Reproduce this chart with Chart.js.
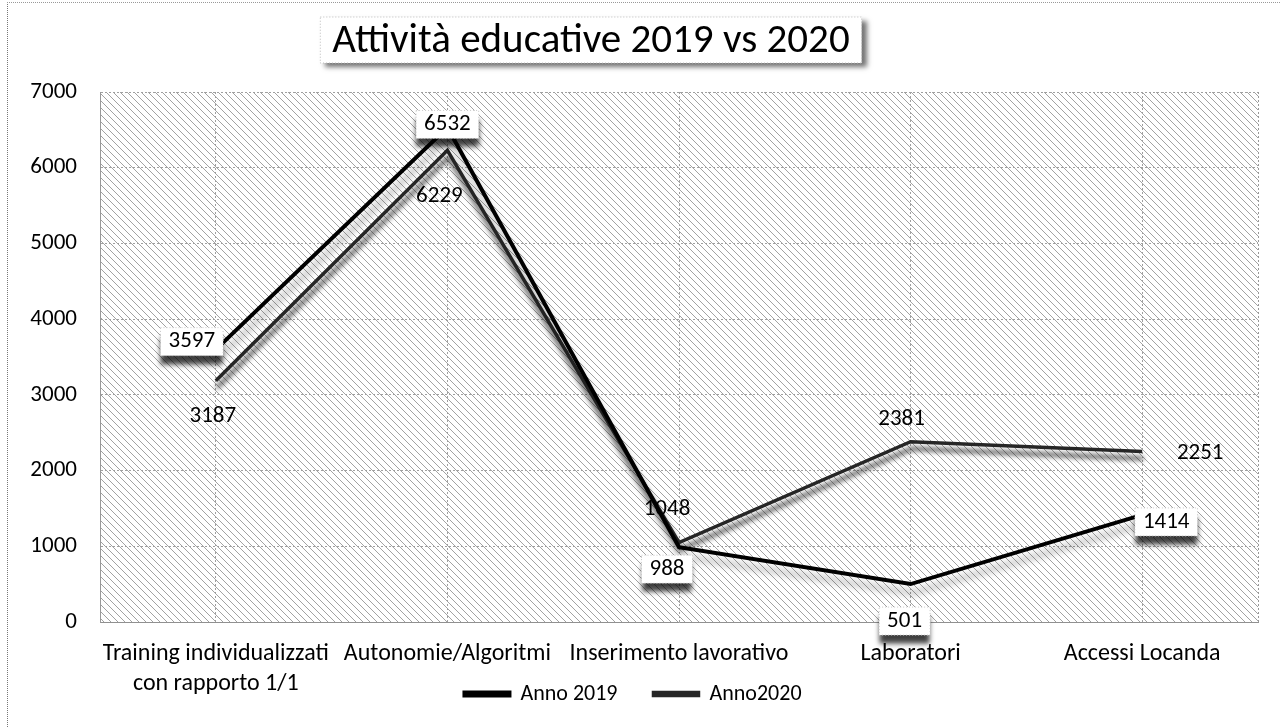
<!DOCTYPE html>
<html>
<head>
<meta charset="utf-8">
<script src="https://cdn.jsdelivr.net/npm/chart.js@4.4.1/dist/chart.umd.min.js"></script>
<style>
  html, body { margin: 0; padding: 0; background: #fff; }
  #wrap { position: relative; width: 1280px; height: 727px; }
  #frame { position: absolute; left: 7px; top: 2px; right: 0; bottom: 0;
           border-left: 1px dotted #777; border-top: 1px dotted #999; pointer-events: none; }
</style>
</head>
<body>
<div id="wrap">
  <canvas id="chart" width="1280" height="727"></canvas>
  <div id="frame"></div>
</div>
<script>
var titleText = 'Attività educative 2019 vs 2020';
var categories = [
    ['Training individualizzati', 'con rapporto 1/1'],
    'Autonomie/Algoritmi',
    'Inserimento lavorativo',
    'Laboratori',
    'Accessi Locanda'
];
var anno2019 = [3597, 6532, 988, 501, 1414];
var anno2020 = [3187, 6229, 1048, 2381, 2251];
var yTicks = [0, 1000, 2000, 3000, 4000, 5000, 6000, 7000];

// label offsets from each point, in px
var offsets2019 = [[-24, -8], [0, -3], [-12, 22], [-6, 37], [24, 7]];
var offsets2020 = [[-3, 36], [-8, 46], [-12, -33], [-9, -22], [58, 2]];

var FONT = 'Carlito, Lato, sans-serif';

function makeHatch(ctx) {
    var c = document.createElement('canvas');
    c.width = 7; c.height = 7;
    var g = c.getContext('2d');
    g.fillStyle = '#ffffff';
    g.fillRect(0, 0, 7, 7);
    g.strokeStyle = '#a2a2a2';
    g.lineWidth = 1;
    g.beginPath();
    g.moveTo(0, 0); g.lineTo(7, 7);
    g.moveTo(-1, 6); g.lineTo(1, 8);
    g.moveTo(6, -1); g.lineTo(8, 1);
    g.stroke();
    return ctx.createPattern(c, 'repeat');
}

var backdrop = {
    id: 'backdrop',
    afterLayout: function (chart) {
        // let the two-line category label spill below the axis box
        chart.scales.x.bottom = chart.height;
    },
    beforeDraw: function (chart) {
        var ctx = chart.ctx, a = chart.chartArea;
        ctx.save();
        ctx.fillStyle = makeHatch(ctx);
        ctx.fillRect(a.left, a.top, a.right - a.left, a.bottom - a.top);

        // title box with shadow
        ctx.font = '41px ' + FONT;
        var w = ctx.measureText(titleText).width;
        var cx = 591, cy = 40;
        var bx = cx - w / 2 - 12, by = 17, bw = w + 24, bh = 46;
        ctx.shadowColor = 'rgba(0,0,0,0.55)';
        ctx.shadowOffsetX = 5;
        ctx.shadowOffsetY = 4;
        ctx.shadowBlur = 5;
        ctx.fillStyle = '#ffffff';
        ctx.fillRect(bx, by, bw, bh);
        ctx.restore();

        ctx.save();
        ctx.strokeStyle = '#bbbbbb';
        ctx.setLineDash([1, 2]);
        ctx.strokeRect(bx, by, bw, bh);
        ctx.fillStyle = '#000';
        ctx.textAlign = 'center';
        ctx.textBaseline = 'middle';
        ctx.font = '41px ' + FONT;
        ctx.fillText(titleText, cx, cy + 2);
        ctx.restore();
    },
    afterDraw: function (chart) {
        var ctx = chart.ctx, a = chart.chartArea;
        ctx.save();
        ctx.strokeStyle = '#999';
        ctx.setLineDash([2, 2]);
        ctx.lineWidth = 1;
        ctx.beginPath();
        ctx.moveTo(a.right + 0.5, a.top);
        ctx.lineTo(a.right + 0.5, a.bottom);
        ctx.stroke();
        ctx.restore();
    }
};

var lineShadow = {
    id: 'lineShadow',
    beforeDatasetDraw: function (chart, args) {
        var ctx = chart.ctx;
        ctx.save();
        if (args.index === 0) {
            ctx.shadowColor = 'rgba(0,0,0,0.3)';
            ctx.shadowOffsetY = 9;
            ctx.shadowOffsetX = 2;
            ctx.shadowBlur = 7;
        } else {
            ctx.shadowColor = 'rgba(0,0,0,0.75)';
            ctx.shadowOffsetY = 7;
            ctx.shadowOffsetX = 1;
            ctx.shadowBlur = 5;
        }
    },
    afterDatasetDraw: function (chart) {
        chart.ctx.restore();
    }
};

var valueLabels = {
    id: 'valueLabels',
    afterDatasetsDraw: function (chart) {
        var ctx = chart.ctx;
        ctx.save();
        ctx.font = '23px ' + FONT;
        ctx.textAlign = 'center';
        ctx.textBaseline = 'middle';
        chart.data.datasets.forEach(function (ds, i) {
            var meta = chart.getDatasetMeta(i);
            var offs = i === 0 ? offsets2019 : offsets2020;
            meta.data.forEach(function (pt, j) {
                var x = pt.x + offs[j][0], y = pt.y + offs[j][1];
                var txt = String(ds.data[j]);
                if (i === 0) {
                    var w = ctx.measureText(txt).width + 16;
                    ctx.save();
                    ctx.shadowColor = 'rgba(0,0,0,0.75)';
                    ctx.shadowOffsetY = 9;
                    ctx.shadowBlur = 5;
                    ctx.fillStyle = '#ffffff';
                    ctx.fillRect(x - w / 2, y - 14, w, 28);
                    ctx.restore();
                    ctx.save();
                    ctx.strokeStyle = '#c8c8c8';
                    ctx.setLineDash([1, 2]);
                    ctx.strokeRect(x - w / 2, y - 14, w, 28);
                    ctx.restore();
                }
                ctx.fillStyle = '#000';
                ctx.fillText(txt, x, y);
            });
        });
        ctx.restore();
    }
};

var config = {
    type: 'line',
    data: {
        labels: categories,
        datasets: [{
            label: 'Anno 2019',
            data: anno2019,
            borderColor: '#000000',
            backgroundColor: '#000000',
            borderWidth: 4,
            pointRadius: 0,
            tension: 0
        },
        {
            label: 'Anno2020',
            data: anno2020,
            borderColor: '#262626',
            backgroundColor: '#555555',
            borderWidth: 3.5,
            pointRadius: 0,
            tension: 0
        }]
    },
    options: {
        responsive: false,
        animation: false,
        events: [],
        layout: {
            padding: { left: 8, right: 22, top: 92, bottom: 12 }
        },
        plugins: {
            title: { display: false },
            tooltip: { enabled: false },
            legend: {
                position: 'bottom',
                labels: {
                    color: '#000',
                    font: { family: FONT, size: 22 },
                    boxWidth: 45,
                    boxHeight: 3,
                    padding: 36
                }
            }
        },
        scales: {
            x: {
                offset: true,
                grid: {
                    offset: false,
                    color: '#a0a0a0',
                    drawTicks: false
                },
                border: { color: '#909090', dash: [2, 2] },
                ticks: {
                    color: '#000',
                    padding: 17,
                    maxRotation: 0,
                    autoSkip: false,
                    font: { family: FONT, size: 24, lineHeight: 1.25 }
                },
                afterFit: function (scale) { scale.height = 25; }
            },
            y: {
                min: 0,
                max: 7000,
                afterBuildTicks: function (scale) {
                    scale.ticks = yTicks.map(function (v) { return { value: v }; });
                },
                grid: {
                    color: '#a0a0a0',
                    drawTicks: false
                },
                border: { color: '#999', dash: [2, 2] },
                ticks: {
                    color: '#000',
                    padding: 23,
                    font: { family: FONT, size: 23 },
                    callback: function (v) { return String(v); }
                },
                afterFit: function (scale) { scale.width = 92; }
            }
        }
    },
    plugins: [backdrop, lineShadow, valueLabels]
};

Chart.defaults.borderColor = '#a0a0a0';
Chart.defaults.scale.grid.borderDash = [2, 2];

var chartCtx = document.getElementById('chart').getContext('2d');
var chart = new Chart(chartCtx, config);
</script>
</body>
</html>
